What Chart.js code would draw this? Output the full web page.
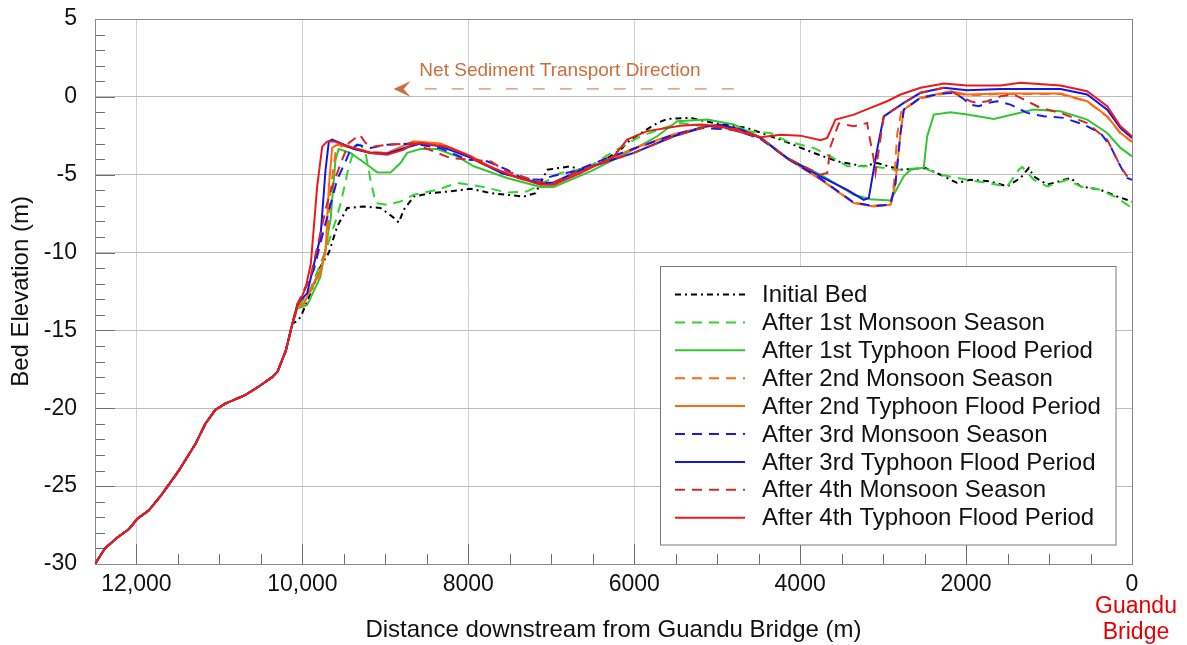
<!DOCTYPE html>
<html>
<head>
<meta charset="utf-8">
<script src="https://cdn.jsdelivr.net/npm/chart.js@4.4.1/dist/chart.umd.min.js"></script>
<style>
  html, body { margin: 0; padding: 0; background: #fff; }
  #wrap { width: 1187px; height: 645px; }
</style>
</head>
<body>
<div id="wrap"><canvas id="bedChart"></canvas></div>
<script>
// lower reach, all profiles coincide here
const sharedX = [12500, 12380, 12230, 12090, 11990, 11850, 11690, 11490, 11290, 11170, 11050, 10930, 10690, 10525, 10365, 10300, 10200, 10120];
const sharedY = [-30.0, -29.0, -28.3, -27.75, -27.1, -26.55, -25.5, -24.0, -22.3, -21.0, -20.1, -19.7, -19.15, -18.6, -18.0, -17.65, -16.3, -14.55];

const initialX = [10060, 10018, 9900, 9782, 9681, 9581, 9460, 9259, 9058, 8918, 8838, 8778, 8657, 8456, 8215, 7974, 7733, 7331, 7190, 7049, 6768, 6648, 6446, 6166, 6045, 5723, 5603, 5322, 5041, 4639, 4237, 3836, 3553, 3233, 3072, 2790, 2489, 2308, 2107, 1947, 1706, 1504, 1344, 1244, 1184, 1022, 741, 621, 380, 178, 0];
const initialY = [-14.4, -14.1, -12.6, -10.9, -10.0, -8.33, -7.14, -7.04, -7.14, -7.68, -8.07, -7.25, -6.4, -6.18, -6.07, -5.9, -6.18, -6.4, -6.18, -4.68, -4.46, -4.68, -4.36, -3.39, -2.75, -1.68, -1.42, -1.35, -1.68, -2.0, -2.75, -3.6, -4.14, -4.46, -4.25, -4.68, -4.57, -5.0, -5.53, -5.32, -5.43, -5.75, -5.21, -4.57, -5.11, -5.64, -5.21, -5.75, -5.97, -6.4, -6.72];

const monsoon1X = [10060, 9900, 9701, 9581, 9520, 9440, 9360, 9300, 9239, 9179, 9118, 8978, 8818, 8657, 8375, 8134, 7853, 7532, 7290, 7170, 6889, 6567, 6246, 5924, 5643, 5442, 5041, 4639, 4358, 4156, 3836, 3634, 3433, 3152, 2830, 2510, 2308, 1987, 1504, 1364, 1324, 1184, 1022, 781, 621, 380, 178, 0];
const monsoon1Y = [-13.6, -12.3, -9.6, -7.68, -6.4, -4.46, -3.18, -3.07, -3.6, -5.32, -6.82, -6.93, -6.72, -6.29, -5.97, -5.53, -5.75, -6.14, -6.07, -5.75, -4.89, -4.57, -3.5, -2.53, -2.0, -1.68, -2.0, -2.21, -2.32, -2.86, -3.28, -3.82, -4.46, -4.46, -4.68, -4.57, -5.0, -5.32, -5.75, -4.68, -4.5, -5.32, -5.75, -5.32, -5.75, -5.97, -6.5, -7.14];

const typhoon1X = [10060, 9942, 9782, 9661, 9601, 9561, 9420, 9219, 9098, 8938, 8818, 8737, 8577, 8375, 8134, 7934, 7532, 7130, 6970, 6527, 6126, 5723, 5482, 5121, 4800, 4478, 4156, 3755, 3353, 3152, 2911, 2751, 2670, 2510, 2469, 2389, 2188, 1987, 1666, 1184, 862, 540, 299, 139, 0];
const typhoon1Y = [-13.6, -13.37, -11.55, -7.9, -4.03, -3.35, -3.6, -4.36, -4.85, -4.85, -4.25, -3.6, -3.35, -3.35, -3.82, -4.46, -5.21, -5.79, -5.79, -4.79, -3.71, -2.53, -1.57, -1.46, -1.78, -2.6, -3.93, -5.0, -6.29, -6.57, -6.65, -5.1, -4.68, -4.55, -2.53, -1.14, -0.99, -1.14, -1.42, -0.82, -0.93, -1.46, -2.32, -3.28, -3.82];

const monsoon2X = [10060, 9983, 9782, 9701, 9661, 9601, 9520, 9380, 9179, 8978, 8657, 8335, 7974, 7600, 7130, 6970, 6648, 6300, 6005, 5523, 5121, 4960, 4719, 4478, 4156, 3755, 3353, 3112, 2911, 2870, 2830, 2780, 2549, 2188, 1987, 1585, 862, 540, 299, 139, 0];
const monsoon2Y = [-13.5, -13.3, -11.3, -9.2, -6.0, -3.6, -3.1, -3.3, -3.55, -3.6, -2.9, -3.05, -3.85, -4.9, -5.62, -5.62, -4.82, -4.05, -3.35, -2.45, -1.9, -1.85, -2.1, -2.62, -3.95, -5.3, -6.8, -7.0, -6.9, -5.6, -2.4, -0.9, -0.1, 0.3, 0.1, 0.18, 0.18, -0.3, -1.28, -2.35, -2.9];

const typhoon2X = [10060, 9983, 9782, 9721, 9681, 9641, 9581, 9380, 9179, 8978, 8657, 8335, 7974, 7600, 7130, 6970, 6648, 6300, 6005, 5523, 5121, 4960, 4719, 4478, 4156, 3755, 3353, 3112, 2911, 2851, 2790, 2751, 2549, 2188, 1987, 1585, 862, 540, 299, 139, 0];
const typhoon2Y = [-13.4, -13.26, -11.1, -10.0, -5.75, -3.28, -3.07, -3.3, -3.55, -3.6, -2.86, -3.0, -3.8, -4.85, -5.6, -5.6, -4.8, -4.0, -3.3, -2.4, -1.89, -1.85, -2.1, -2.6, -3.95, -5.3, -6.82, -7.04, -6.93, -5.53, -2.32, -0.82, -0.06, 0.36, 0.15, 0.21, 0.21, -0.28, -1.25, -2.32, -2.86];

const monsoon3X = [10060, 9862, 9742, 9581, 9480, 9420, 9340, 9179, 8978, 8657, 8335, 8014, 7772, 7532, 7331, 7130, 6929, 6728, 6326, 5924, 5523, 5201, 4800, 4478, 4156, 3755, 3353, 3112, 2911, 2851, 2790, 2751, 2549, 2308, 2148, 2047, 1947, 1847, 1745, 1625, 1465, 1263, 1063, 822, 581, 380, 259, 139, 58, 0];
const monsoon3Y = [-13.4, -11.1, -8.54, -5.32, -4.14, -3.39, -3.07, -3.28, -3.07, -3.0, -3.3, -4.03, -4.14, -4.68, -5.28, -5.32, -5.0, -4.79, -3.93, -3.18, -2.43, -2.0, -2.1, -2.7, -3.95, -5.25, -6.8, -7.0, -6.93, -5.53, -2.32, -0.82, -0.06, 0.21, 0.26, -0.06, -0.5, -0.6, -0.39, -0.28, -0.5, -1.03, -1.25, -1.35, -1.78, -2.32, -3.18, -4.46, -5.21, -5.32];

const typhoon3X = [10060, 9942, 9782, 9721, 9681, 9641, 9380, 9179, 8978, 8778, 8577, 8335, 7974, 7600, 7130, 6970, 6648, 6300, 6005, 5523, 5121, 4960, 4719, 4478, 4156, 3755, 3433, 3233, 3173, 3072, 2992, 2751, 2549, 2268, 1987, 1585, 862, 540, 299, 139, 0];
const typhoon3Y = [-13.3, -12.6, -8.97, -4.68, -2.86, -2.75, -3.35, -3.6, -3.65, -3.3, -3.0, -3.18, -3.9, -4.9, -5.55, -5.5, -4.7, -4.1, -3.6, -2.53, -1.89, -1.8, -2.1, -2.64, -3.93, -5.1, -5.97, -6.61, -6.5, -3.39, -1.25, -0.39, 0.26, 0.58, 0.43, 0.51, 0.51, 0.15, -0.82, -2.0, -2.64];

const monsoon4X = [10060, 9900, 9701, 9641, 9520, 9440, 9360, 9308, 9239, 9139, 8978, 8657, 8215, 7733, 7532, 7130, 6970, 6648, 6300, 6005, 5523, 5121, 4719, 4478, 4156, 3755, 3674, 3634, 3534, 3353, 3192, 3173, 3112, 3092, 3052, 2992, 2751, 2549, 2268, 2067, 1947, 1866, 1745, 1585, 1425, 1263, 1103, 862, 540, 299, 139, 58, 0];
const monsoon4Y = [-13.3, -11.5, -6.82, -5.75, -4.03, -2.96, -2.64, -2.43, -2.96, -3.18, -3.07, -3.0, -3.93, -4.14, -4.79, -5.5, -5.5, -4.7, -4.1, -3.6, -2.53, -1.89, -2.1, -2.64, -3.93, -5.0, -4.89, -3.18, -1.7, -1.89, -1.68, -2.32, -4.03, -4.89, -3.39, -1.25, -0.39, 0.26, 0.58, 0.04, -0.28, -0.39, -0.28, 0.04, 0.15, -0.28, -0.71, -1.03, -1.68, -2.75, -4.46, -5.1, -5.32];

const typhoon4X = [10060, 10018, 9958, 9898, 9822, 9761, 9701, 9621, 9380, 9179, 8978, 8778, 8657, 8577, 8255, 7974, 7853, 7452, 7130, 6970, 6648, 6246, 6085, 5844, 5442, 5201, 4960, 4840, 4478, 4237, 3996, 3755, 3674, 3574, 3353, 3152, 2951, 2790, 2549, 2268, 1987, 1585, 1344, 862, 540, 299, 139, 0];
const typhoon4Y = [-13.4, -13.0, -12.2, -10.7, -5.75, -3.2, -2.86, -2.86, -3.28, -3.6, -3.71, -3.39, -3.0, -2.96, -3.2, -3.82, -4.25, -5.1, -5.64, -5.64, -4.9, -3.82, -2.75, -2.2, -1.85, -1.78, -1.89, -2.1, -2.6, -2.43, -2.49, -2.79, -2.64, -1.46, -1.14, -0.71, -0.28, 0.15, 0.58, 0.86, 0.73, 0.73, 0.9, 0.73, 0.36, -0.6, -1.89, -2.53];

const xTickValues = [0, 2000, 4000, 6000, 8000, 10000, 12000];
const xTickLabels = ['0', '2000', '4000', '6000', '8000', '10,000', '12,000'];

const FONT = '"Liberation Sans", Arial, Helvetica, sans-serif';
const DASH = [10, 7];
const DASHDOT = [6, 4, 2, 4];

function profile(xs, ys) {
  const pts = sharedX.map((x, i) => ({ x: x, y: sharedY[i] }));
  xs.forEach((x, i) => pts.push({ x: x, y: ys[i] }));
  return pts;
}

const series = [
  { label: 'Initial Bed', x: initialX, y: initialY, color: '#000000', dash: DASHDOT },
  { label: 'After 1st Monsoon Season', x: monsoon1X, y: monsoon1Y, color: '#2fd62f', dash: DASH },
  { label: 'After 1st Typhoon Flood Period', x: typhoon1X, y: typhoon1Y, color: '#33c633', dash: [] },
  { label: 'After 2nd Monsoon Season', x: monsoon2X, y: monsoon2Y, color: '#ff6a10', dash: DASH },
  { label: 'After 2nd Typhoon Flood Period', x: typhoon2X, y: typhoon2Y, color: '#ff6a10', dash: [] },
  { label: 'After 3rd Monsoon Season', x: monsoon3X, y: monsoon3Y, color: '#1a1af0', dash: DASH },
  { label: 'After 3rd Typhoon Flood Period', x: typhoon3X, y: typhoon3Y, color: '#1414e6', dash: [] },
  { label: 'After 4th Monsoon Season', x: monsoon4X, y: monsoon4Y, color: '#d42828', dash: DASH },
  { label: 'After 4th Typhoon Flood Period', x: typhoon4X, y: typhoon4Y, color: '#ec1a1a', dash: [] }
];

// arrow + label, in data units
const arrowTail = 4800, arrowHead = 8900, arrowY = 0.51;
const noteX = 8590, noteY = 1.34;
const noteColor = '#c8703c';

const decor = {
  id: 'decor',
  beforeDatasetsDraw(chart) {
    const { ctx, chartArea: a, scales: { x, y } } = chart;
    ctx.save();
    ctx.strokeStyle = '#6e6e6e';
    ctx.lineWidth = 1;
    ctx.beginPath();
    for (let v = -30; v <= 5; v += 1) {
      const py = Math.round(y.getPixelForValue(v)) + 0.5;
      const len = v % 5 === 0 ? 20 : 10;
      ctx.moveTo(a.left, py); ctx.lineTo(a.left + len, py);
    }
    for (let v = 0; v <= 12000; v += 500) {
      const px = Math.round(x.getPixelForValue(v)) + 0.5;
      const len = v % 2000 === 0 ? 20 : 10;
      ctx.moveTo(px, a.bottom); ctx.lineTo(px, a.bottom - len);
    }
    ctx.stroke();
    ctx.strokeStyle = '#8a8a8a';
    ctx.strokeRect(Math.round(a.left) + 0.5, Math.round(a.top) + 0.5, Math.round(a.right - a.left), Math.round(a.bottom - a.top));
    ctx.restore();
  },
  afterDraw(chart) {
    const { ctx, chartArea: a, scales: { x, y } } = chart;
    ctx.save();

    // transport direction note
    const ay = y.getPixelForValue(arrowY);
    const tip = x.getPixelForValue(arrowHead);
    ctx.strokeStyle = noteColor;
    ctx.fillStyle = noteColor;
    ctx.lineWidth = 1;
    ctx.setLineDash([12, 15]);
    ctx.beginPath();
    ctx.moveTo(x.getPixelForValue(arrowTail), ay);
    ctx.lineTo(tip + 27, ay);
    ctx.stroke();
    ctx.setLineDash([]);
    ctx.beginPath();
    ctx.moveTo(tip, ay);
    ctx.lineTo(tip + 17, ay - 8);
    ctx.lineTo(tip + 10, ay);
    ctx.lineTo(tip + 17, ay + 8);
    ctx.closePath();
    ctx.fill();
    ctx.font = '19px ' + FONT;
    ctx.textBaseline = 'alphabetic';
    ctx.textAlign = 'left';
    ctx.fillText('Net Sediment Transport Direction', x.getPixelForValue(noteX), y.getPixelForValue(noteY));

    // legend box
    const box = { l: 660.5, t: 266.5, r: 1116, b: 545 };
    ctx.fillStyle = '#fff';
    ctx.fillRect(box.l, box.t, box.r - box.l, box.b - box.t);
    ctx.strokeStyle = '#7a7a7a';
    ctx.lineWidth = 1;
    ctx.strokeRect(box.l, box.t, box.r - box.l, box.b - box.t);
    ctx.font = '24px ' + FONT;
    ctx.textBaseline = 'middle';
    chart.data.datasets.forEach((ds, i) => {
      const ry = 294.5 + i * 27.9;
      ctx.strokeStyle = ds.borderColor;
      ctx.lineWidth = 2;
      ctx.setLineDash(ds.borderDash);
      ctx.beginPath();
      ctx.moveTo(675, ry);
      ctx.lineTo(745, ry);
      ctx.stroke();
      ctx.setLineDash([]);
      ctx.fillStyle = '#111';
      ctx.fillText(ds.label, 762, ry + 1);
    });

    // bridge label under the zero tick
    ctx.fillStyle = '#e60000';
    ctx.textAlign = 'center';
    ctx.font = '23px ' + FONT;
    const bx = x.getPixelForValue(0) + 4;
    ctx.fillText('Guandu', bx, 607);
    ctx.fillText('Bridge', bx, 633);
    ctx.restore();
  }
};

new Chart(document.getElementById('bedChart'), {
  type: 'line',
  data: {
    datasets: series.map((s, i) => ({
      label: s.label,
      data: profile(s.x, s.y),
      borderColor: s.color,
      backgroundColor: s.color,
      borderDash: s.dash,
      borderWidth: 2,
      pointRadius: 0,
      tension: 0,
      fill: false,
      order: series.length - i
    }))
  },
  options: {
    responsive: true,
    maintainAspectRatio: false,
    animation: false,
    layout: { padding: { top: 19, right: 55, left: 0, bottom: 0 } },
    plugins: { legend: { display: false }, tooltip: { enabled: false } },
    scales: {
      x: {
        type: 'linear',
        reverse: true,
        min: 0,
        max: 12500,
        afterBuildTicks: s => { s.ticks = xTickValues.map(v => ({ value: v })); },
        afterFit: s => { s.height = 81; s.paddingLeft = 0; s.paddingRight = 0; },
        ticks: {
          callback: v => xTickLabels[xTickValues.indexOf(v)],
          font: { family: FONT, size: 23 },
          color: '#111',
          padding: 7,
          maxRotation: 0
        },
        grid: { color: '#d2d2d2', drawTicks: false },
        border: { color: '#8a8a8a' },
        title: {
          display: true,
          text: 'Distance downstream from Guandu Bridge (m)',
          font: { family: FONT, size: 24 },
          color: '#111',
          padding: { top: 0, bottom: 0 }
        }
      },
      y: {
        min: -30,
        max: 5,
        afterFit: s => { s.width = 95; s.paddingTop = 0; s.paddingBottom = 0; },
        ticks: {
          stepSize: 5,
          font: { family: FONT, size: 23 },
          color: '#111',
          padding: 18
        },
        grid: { color: '#bdbdbd', drawTicks: false },
        border: { color: '#8a8a8a' },
        title: {
          display: true,
          text: 'Bed Elevation (m)',
          font: { family: FONT, size: 24 },
          color: '#111',
          padding: { top: 7, bottom: 0 }
        }
      }
    }
  },
  plugins: [decor]
});
</script>
</body>
</html>
